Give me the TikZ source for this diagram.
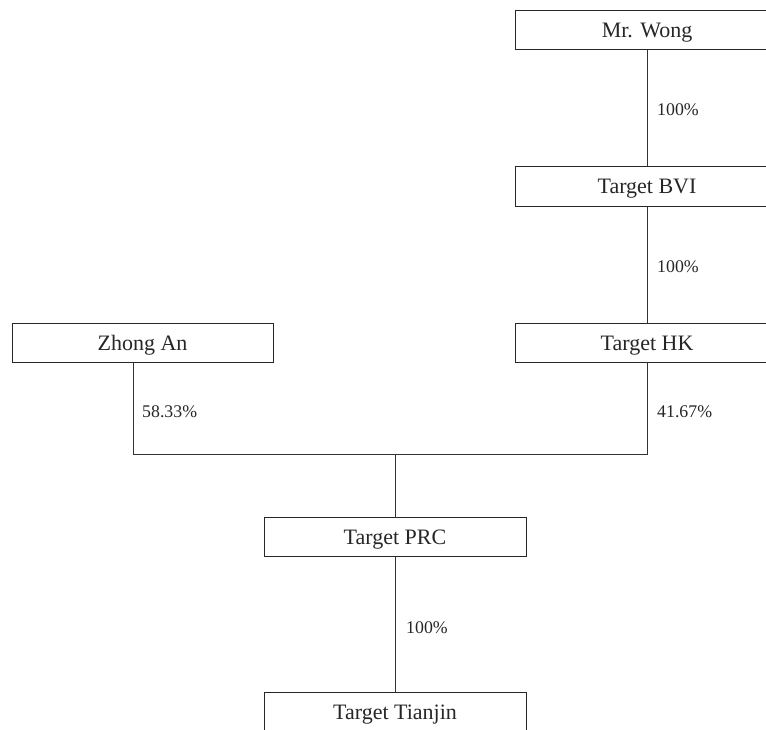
\documentclass[tikz,border=0pt]{standalone}
\usepackage{fontspec}
\setmainfont{Liberation Serif}
\begin{document}
\begin{tikzpicture}[x=1pt,y=-1pt,
  entity/.style={draw=black!85,line width=1pt,minimum width=262pt,minimum height=39.5pt,inner sep=0pt,
    text height=14.6pt,text depth=0pt,
    font=\fontsize{22}{26}\selectfont,text=black!85},
  pct/.style={anchor=west,inner sep=0pt,font=\fontsize{17.8}{21}\selectfont,text=black!85},
  link/.style={draw=black!80,line width=1pt}]
\useasboundingbox (0,0) rectangle (766,729);
\clip (0,0) rectangle (766,729);
\node[entity,minimum width=264pt] (wong) at (647,30) {Mr. Wong};
\node[entity,minimum width=264pt] (bvi) at (647,186.5) {Target BVI};
\node[entity,minimum width=264pt] (hk) at (647,342.8) {Target HK};
\node[entity,minimum width=261pt] (zhong) at (142.5,342.8) {Zhong An};
\node[entity] (prc) at (395,537) {Target PRC};
\node[entity] (tj) at (395,712.5) {Target Tianjin};
\coordinate (jl) at (133,454.5);
\coordinate (jm) at (395,454.5);
\coordinate (jr) at (647,454.5);
\draw[link] (wong) -- (bvi);
\draw[link] (bvi) -- (hk);
\draw[link] (jl |- zhong.south) -- (jl) -- (jr) -- (hk.south);
\draw[link] (jm) -- (prc.north);
\draw[link] (prc) -- (tj);
\node[pct] (l1) at (657,110) {100\%};
\node[pct] (l2) at (657,267) {100\%};
\node[pct] (l3) at (142,412) {58.33\%};
\node[pct] (l4) at (657,412) {41.67\%};
\node[pct] (l5) at (406,628) {100\%};
\end{tikzpicture}
\end{document}
